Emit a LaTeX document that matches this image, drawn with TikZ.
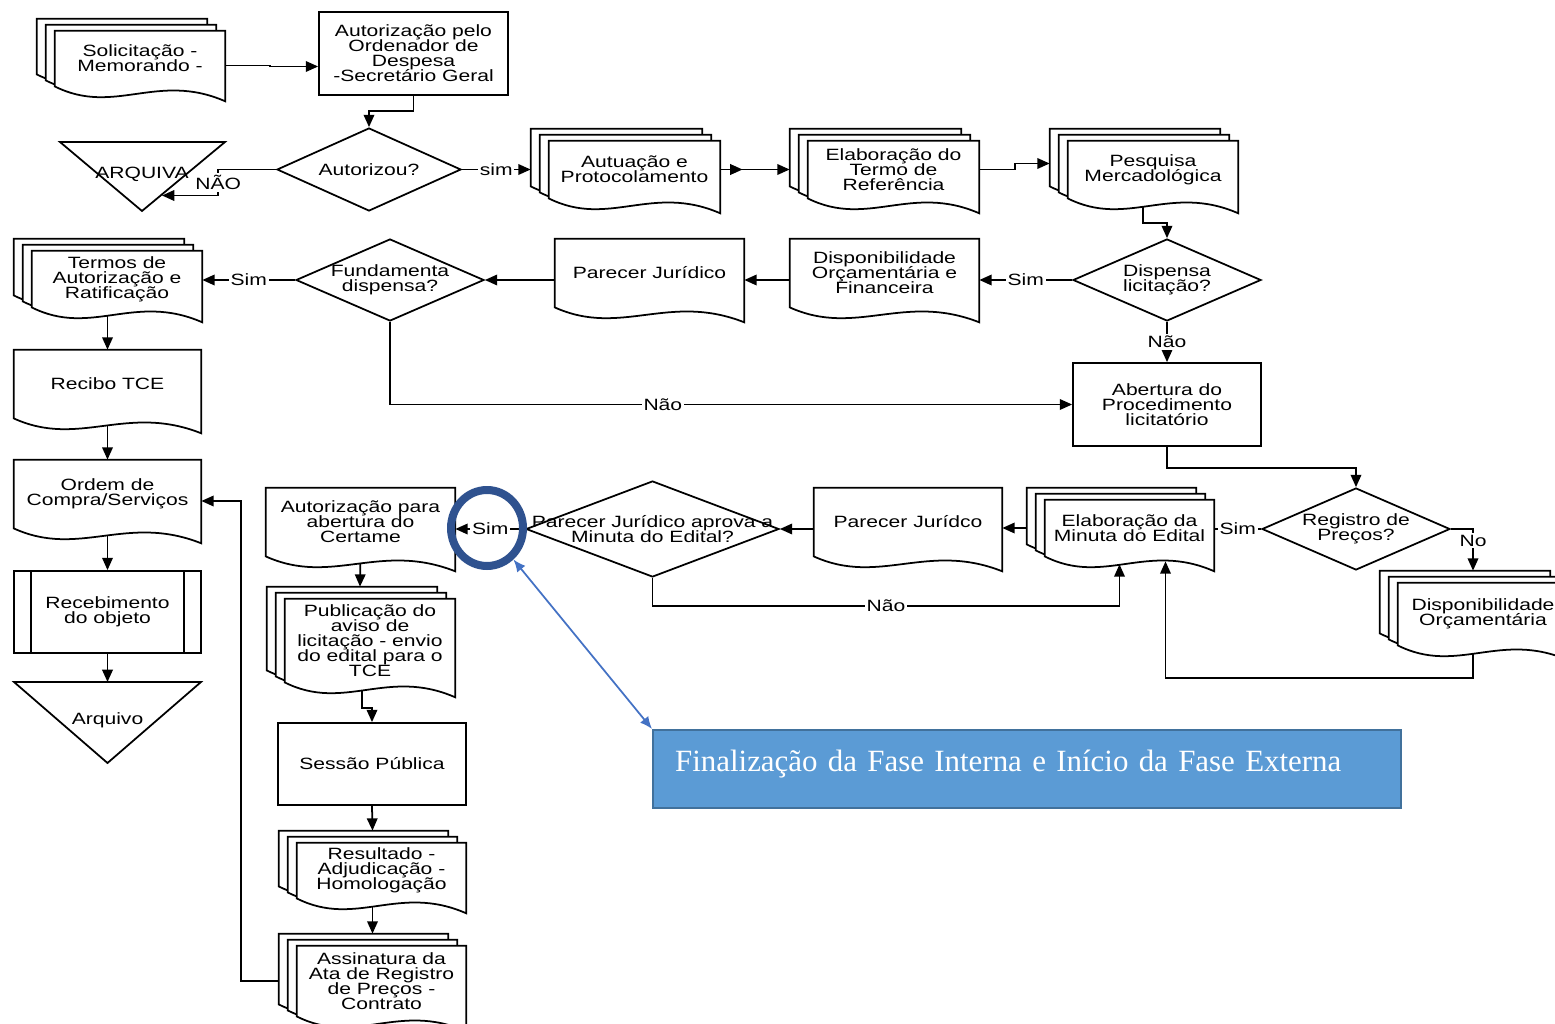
\documentclass[tikz,border=0pt]{standalone}
\usepackage{fontspec}
\setmainfont[FakeStretch=1.29]{Liberation Sans}
\newfontfamily\notefont{Liberation Serif}
\usetikzlibrary{shapes.geometric,arrows.meta,calc,decorations.markings}

\definecolor{ringblue}{RGB}{47,82,143}
\definecolor{arrowblue}{RGB}{68,114,196}
\definecolor{notefill}{RGB}{91,155,213}
\definecolor{noteline}{RGB}{65,113,156}

\pgfdeclarelayer{lines}
\pgfdeclarelayer{pages}
\pgfsetlayers{lines,pages,main}

\newcommand{\pw}{0.02cm}
\newcommand{\flowfont}{\fontsize{9.3}{8.5}\selectfont\lineskiplimit -10pt\relax}

% wavy page outline round a node, moved by (#2,#3)
\newcommand{\docline}[3]{%
  \draw[pageline] ($(#1.north west)+(#2,#3)$) -- ($(#1.north east)+(#2,#3)$)
    -- ($(#1.south east)+(#2,#3+15)$)
    .. controls ($(#1.south west)!0.6!(#1.south east)+(#2,#3-15)$)
    and ($(#1.south west)!0.35!(#1.south east)+(#2,#3+30)$)
    .. ($(#1.south west)+(#2,#3)$) -- cycle;}
\newcommand{\onepage}[1]{\begin{pgfonlayer}{pages}\docline{#1}{0}{0}\end{pgfonlayer}}
\newcommand{\threepages}[1]{\begin{pgfonlayer}{pages}\docline{#1}{-18}{-12}\docline{#1}{-9}{-6}\docline{#1}{0}{0}\end{pgfonlayer}}

\tikzset{
  txt/.style={font=\flowfont, align=center, inner sep=0pt},
  docnode/.style 2 args={txt, rectangle, minimum width=#1*\pw, minimum height=#2*\pw},
  procbox/.style 2 args={txt, rectangle, draw, fill=white, line width=1pt, minimum width=#1*\pw, minimum height=#2*\pw},
  askbox/.style 2 args={diamond, draw, fill=white, line width=1pt, inner sep=0pt, minimum width=#1*\pw, minimum height=#2*\pw},
  pageline/.style={draw, fill=white, line width=1pt},
  arr/.style={-{Stealth[inset=0pt,length=7pt,width=6pt]}, line width=1pt},
  twotip/.style={postaction={decorate}, decoration={markings, mark=at position 0.32 with {\arrow{Stealth[inset=0pt,length=7pt,width=6pt]}}}},
  link/.style={line width=1pt},
  lbl/.style={txt, fill=white, inner sep=1pt},
  bluearr/.style={{Latex[length=7pt,width=6pt]}-{Latex[length=7pt,width=6pt]}, draw=arrowblue, line width=1pt},
}

\begin{document}
\begin{tikzpicture}[x=\pw, y=-\pw]
\useasboundingbox (0,0) rectangle (1555,1024);

    % fase interna, parte de cima
    \node (sol) at (140,58.5) [docnode={170}{55}] {Solicitação -\\Memorando -};
    \node (ord) at (413.5,53.5) [procbox={189}{83}] {Autorização pelo\\Ordenador de\\Despesa\\-Secretário Geral};
    \node (aut) at (369,169.5) [askbox={184}{83}, label={[txt]center:Autorizou?}] {};
    \node (arq) at (142,174) [txt] {ARQUIVA};
    \coordinate (arqin) at (162,195.5);
    \node (autu) at (634.5,169.5) [docnode={171}{57}] {Autuação e\\Protocolamento};
    \node (ter) at (893.5,169.5) [docnode={171}{57}] {Elaboração do\\Termo de\\Referência};
    \node (pes) at (1153,169.5) [docnode={170}{57}] {Pesquisa\\Mercadológica};

    \node (dis) at (1167,280) [askbox={188}{82}, label={[txt]center:{Dispensa\\licitação?}}] {};
    \node (orc) at (884.5,273) [docnode={189}{68}] {Disponibilidade\\Orçamentária e\\Financeira};
    \node (par) at (649.5,273) [docnode={189}{68}] {Parecer Jurídico};
    \node (fun) at (390,280) [askbox={188}{82}, label={[txt]center:{Fundamenta\\dispensa?}}] {};
    \node (tra) at (117,279) [docnode={170}{56}] {Termos de\\Autorização e\\Ratificação};

    % coluna da esquerda
    \node (tce) at (107.5,384) [docnode={187}{68}] {Recibo TCE};
    \node (odc) at (107.5,494) [docnode={187}{68}] {Ordem de\\Compra/Serviços};
    \node (rcb) at (107.5,612) [procbox={187}{82}] {Recebimento\\do objeto};
    \node (arq2) at (107.5,720) [txt] {Arquivo};
    \coordinate (arq2in) at (107.5,682);

    % licitacao
    \node (abe) at (1167,404.5) [procbox={188}{83}] {Abertura do\\Procedimento\\licitatório};
    \node (reg) at (1356,529) [askbox={188}{82}, label={[txt]center:{Registro de\\Preços?}}] {};
    \node (dor) at (1483,614) [docnode={170}{62}] {Disponibilidade\\Orçamentária};
    \node (min) at (1129.5,528) [docnode={169}{56}] {Elaboração da\\Minuta do Edital};
    \node (pjc) at (908,522) [docnode={188}{68}] {Parecer Jurídco};
    \node (apr) at (652.5,529) [askbox={253}{96}, label={[txt]center:{Parecer Jurídico aprova a\\Minuta do Edital?}}] {};
    \node (cer) at (360.5,522) [docnode={189}{68}] {Autorização para\\abertura do\\Certame};

    \node (pub) at (370,640.5) [docnode={170}{83}] {Publicação do\\aviso de\\licitação - envio\\do edital para o\\TCE};
    \node (ses) at (372,764) [procbox={188}{82}] {Sessão Pública};
    \node (res) at (381.5,870.5) [docnode={169}{55}] {Resultado -\\Adjudicação -\\Homologação};
    \node (ass) at (381.5,981) [docnode={169}{70}] {Assinatura da\\Ata de Registro\\de Preços -\\Contrato};

    \threepages{sol} \threepages{autu} \threepages{ter} \threepages{pes}
    \threepages{tra} \threepages{dor} \threepages{min} \threepages{pub}
    \threepages{res} \threepages{ass}
    \onepage{orc} \onepage{par} \onepage{tce} \onepage{odc} \onepage{pjc} \onepage{cer}

    \begin{pgfonlayer}{pages}
    \draw[pageline] (60,142) -- (225,142) -- (142,211) -- cycle;
    \draw[pageline] (14,682) -- (201,682) -- (107.5,763) -- cycle;
    \end{pgfonlayer}

    \draw[link] ($(rcb.north west)+(18,0)$) -- ($(rcb.south west)+(18,0)$);
    \draw[link] ($(rcb.north east)+(-18,0)$) -- ($(rcb.south east)+(-18,0)$);

    \begin{pgfonlayer}{lines}
    \draw[arr] ($(sol.east)+(0,7)$) -- ++(45,0) |- ($(ord.west)+(0,13)$);
    \draw[arr] (ord.south) -- ++(0,15) -| (aut.north);
    \draw[arr] (aut.west) -- ++(-58,0) -- node[lbl]{NÃO} ++(0,26) -- (arqin);
    \draw[arr] (aut.east) -- node[lbl]{sim} ($(autu.west)+(-18,0)$);
    \draw[arr, twotip] (autu.east) -- ($(ter.west)+(-18,0)$);
    \draw[arr] (ter.east) -- ++(36,0) |- ($(pes.west)+(-18,-6)$);
    \draw[arr] ($(pes.south)+(-10,0)$) -- ++(0,25) -| (dis.north);

    \draw[arr] (dis.west) -- node[lbl]{Sim} (dis.west -| orc.east);
    \draw[arr] (dis.west -| orc.west) -- (dis.west -| par.east);
    \draw[arr] (dis.west -| par.west) -- (fun.east);
    \draw[arr] (fun.west) -- node[lbl]{Sim} (fun.west -| tra.east);
    \draw[arr] (fun.south) |- node[lbl, pos=0.7]{Não} (abe.west);
    \draw[arr] (dis.south) -- node[lbl]{Não} (abe.north);

    \draw[arr] (tra.south -| tce.north) -- (tce.north);
    \draw[arr] (tce.south) -- (odc.north);
    \draw[arr] (odc.south) -- (rcb.north);
    \draw[arr] (rcb.south) -- (arq2in);

    \draw[arr] (abe.south) -- ++(0,21) -| (reg.north);
    \draw[link] (reg.west) -- node[lbl]{Sim} (reg.west -| min.east);
    \draw[arr] (reg.east) -| node[lbl, pos=0.64]{No} ($(dor.north)+(-10,-12)$);
    \draw[arr] ($(dor.south)+(-10,0)$) -- ++(0,33) -| ($(min.south)+(36,5)$);
    \draw[arr] ($(min.west)+(-18,0)$) -- (min.west -| pjc.east);
    \draw[arr] (apr.east -| pjc.west) -- (apr.east);
    \draw[arr] (apr.south) -- ++(0,28) -| node[lbl, pos=0.25]{Não} ($(min.south)+(-10,8)$);
    \draw[arr] (apr.west) -- node[lbl]{Sim} (apr.west -| cer.east);

    \draw[arr] (cer.south) -- ($(pub.north)+(-10,-12)$);
    \draw[arr] ($(pub.south)+(-8,0)$) -- ++(0,26) -| (ses.north);
    \draw[arr] (ses.south) -- ($(res.north)+(-9,-12)$);
    \draw[arr] ($(res.south)+(-9,0)$) -- ($(ass.north)+(-9,-12)$);
    \draw[arr] ($(ass.west)+(-18,0)$) -- ++(-38,0) |- ($(odc.east)+(0,7)$);
    \end{pgfonlayer}

    % destaque
    \node (ring) at (487,528) [ellipse, draw=ringblue, line width=0.16cm, minimum width=1.44cm, minimum height=1.52cm, inner sep=0pt] {};
    \node (note) at (1027,769) [rectangle, draw=noteline, line width=1.2pt, fill=notefill, text=white,
        font=\notefont\fontsize{17.6}{20}\selectfont, text width=14.08cm, inner xsep=0.44cm, inner ysep=0pt,
        minimum height=1.56cm, align=left, text height=12.5pt, text depth=10.2pt]
        {Finalização da Fase Interna e Início da Fase Externa};
    \draw[bluearr] (ring.-50) -- (note.north west);

\end{tikzpicture}
\end{document}
